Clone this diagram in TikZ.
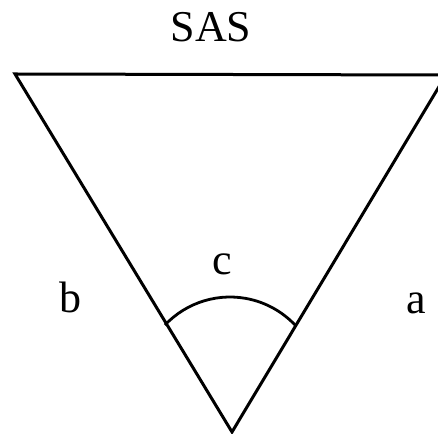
\documentclass[tikz,border=0pt]{standalone}
\usepackage{fontspec}
\setmainfont{Liberation Serif}
\usetikzlibrary{calc}
\begin{document}
\begin{tikzpicture}[x=1pt,y=1pt,
  edge/.style={line width=3pt, line join=miter},
  lbl/.style={anchor=base, inner sep=0pt, font=\fontsize{44}{50}\selectfont}]
\useasboundingbox (0,0) rectangle (438,433);
\clip (0,0) rectangle (438,433);
\coordinate (TL) at (15,359);
\coordinate (TR) at (446,358);
\coordinate (B) at (232,1);
\coordinate (AC) at (230,46.5);
\coordinate (AL) at ($(AC)+(136.6:89.5)$);
\draw[edge] (TR) -- (TL) -- (B) -- cycle;
\draw[line width=2.8pt] (AL) arc[start angle=136.6, end angle=42.5, radius=89.5];
\node[lbl] (sas) at (211,391) {SAS};
\node[lbl] (b) at (70,120) {b};
\node[lbl] (a) at (416,119) {a};
\node[lbl] (c) at (222.5,158) {c};
\end{tikzpicture}
\end{document}
